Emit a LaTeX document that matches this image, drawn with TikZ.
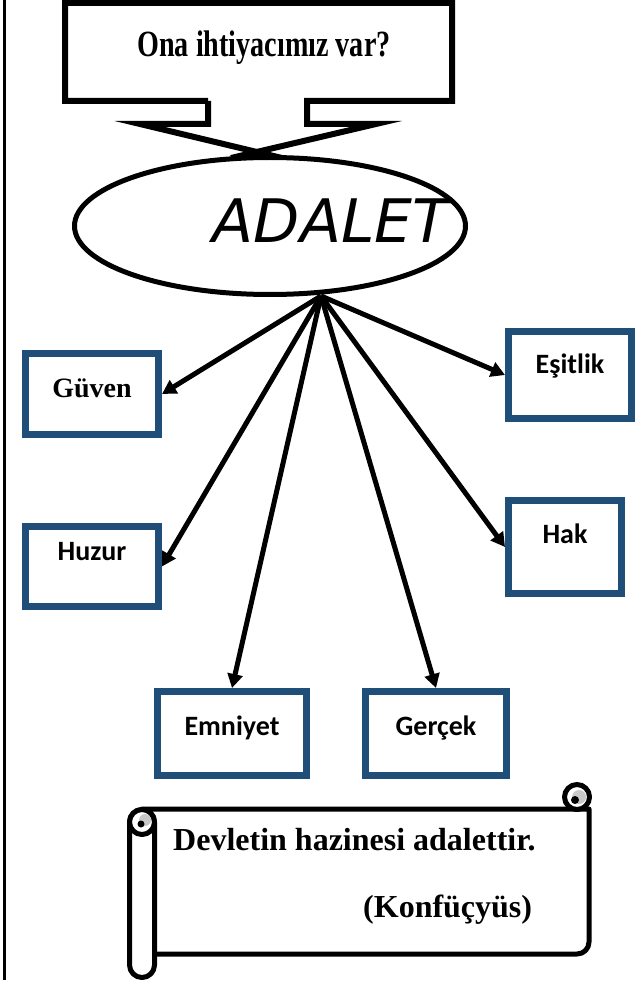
\documentclass[tikz,border=0pt]{standalone}
\usepackage{fontspec}
\setmainfont{Liberation Serif}
\newfontfamily\calibrifont{Carlito}
\newfontfamily\adaletfont{DejaVu Sans}
\usetikzlibrary{arrows.meta,shapes.geometric}
\definecolor{kutumavi}{RGB}{31,78,121}
\definecolor{gri}{RGB}{200,200,200}

\begin{document}
\begin{tikzpicture}[x=1pt, y=-1pt,
    kutu/.style={draw=kutumavi, line width=7pt, inner sep=0pt, text height=12pt, text depth=14pt, font=\calibrifont\bfseries\fontsize{28}{30}\selectfont},
    ok/.style={line width=5pt, -{Triangle[length=14pt, width=15pt]}},
    balon/.style={line width=6pt, line join=miter},
    rulo/.style={line width=5pt, line join=round},
    yazi/.style={font=\bfseries\fontsize{32}{36}\selectfont, inner sep=0pt}]
    \useasboundingbox (0,0) rectangle (644,984);

    \draw[line width=2.5pt] (4.5,0) -- (4.5,980);

    \draw[balon] (208,101) -- (65,101) -- (65,3) -- (452,3) -- (452,101) -- (307,101) -- (307,124) -- (376,124) -- (231,158);
    \draw[balon] (208,101) -- (208,124) -- (140,124) -- (282,158);
    \node[anchor=base, inner sep=0pt, font=\bfseries\fontsize{37}{40}\selectfont] (soru) at (264,57) {\scalebox{0.76}[1]{Ona ihtiyacımız var?}};

    \node[ellipse, draw, fill=white, line width=5pt, inner sep=0pt, minimum width=391pt, minimum height=137pt] (adalet) at (270,226) {};
    \node[anchor=base, inner sep=0pt, font=\adaletfont\itshape\fontsize{60}{60}\selectfont] (adaletyazi) at (331,242) {ADALET};
    \coordinate (hub) at (321,296);

    \node[kutu, minimum width=133pt, minimum height=81pt, text height=15pt, text depth=9pt, font=\bfseries\fontsize{28}{30}\selectfont] (guven) at (92,394) {Güven};
    \node[kutu, minimum width=133pt, minimum height=80pt, text depth=25pt] (huzur) at (92,566.5) {Huzur};
    \node[kutu, minimum width=149pt, minimum height=84pt, text height=14pt, text depth=11pt] (emniyet) at (232,733.5) {Emniyet};
    \node[kutu, minimum width=141pt, minimum height=84pt, text height=14pt, text depth=11pt] (gercek) at (436,733.5) {Gerçek};
    \node[kutu, minimum width=113pt, minimum height=93pt, text depth=20pt] (hak) at (565,547) {Hak};
    \node[kutu, minimum width=123pt, minimum height=87pt, text depth=16pt] (esitlik) at (570,375) {Eşitlik};

    \draw[ok] (hub) -- (guven.east);
    \draw[ok] (hub) -- (huzur.east);
    \draw[ok] (hub) -- (emniyet.north);
    \draw[ok] (hub) -- (gercek.north);
    \draw[ok] (hub) -- (hak.west);
    \draw[ok] (hub) -- (esitlik.west);

    % parsomen
    \draw[rulo, fill=white] (142,809) -- (589,809) -- (589,942) arc (0:90:12) -- (142,954) -- cycle;
    \draw[rulo, fill=white] (577,797) circle (12.5pt);
    \fill[gri] (579,797) circle (7pt);
    \fill (575,800) circle (4pt);
    \draw[rulo, fill=white, rounded corners=12.5pt] (129.5,809.5) rectangle (154.5,977.5);
    \draw[rulo, fill=white] (142,822) circle (12.5pt);
    \fill[gri] (145,820) circle (6pt);
    \fill (141,824) circle (3.5pt);
    \node[yazi, anchor=base west] (soz) at (173,850) {Devletin hazinesi adalettir.};
    \node[yazi, anchor=base west] (kisi) at (363,917) {(Konfüçyüs)};
\end{tikzpicture}
\end{document}
